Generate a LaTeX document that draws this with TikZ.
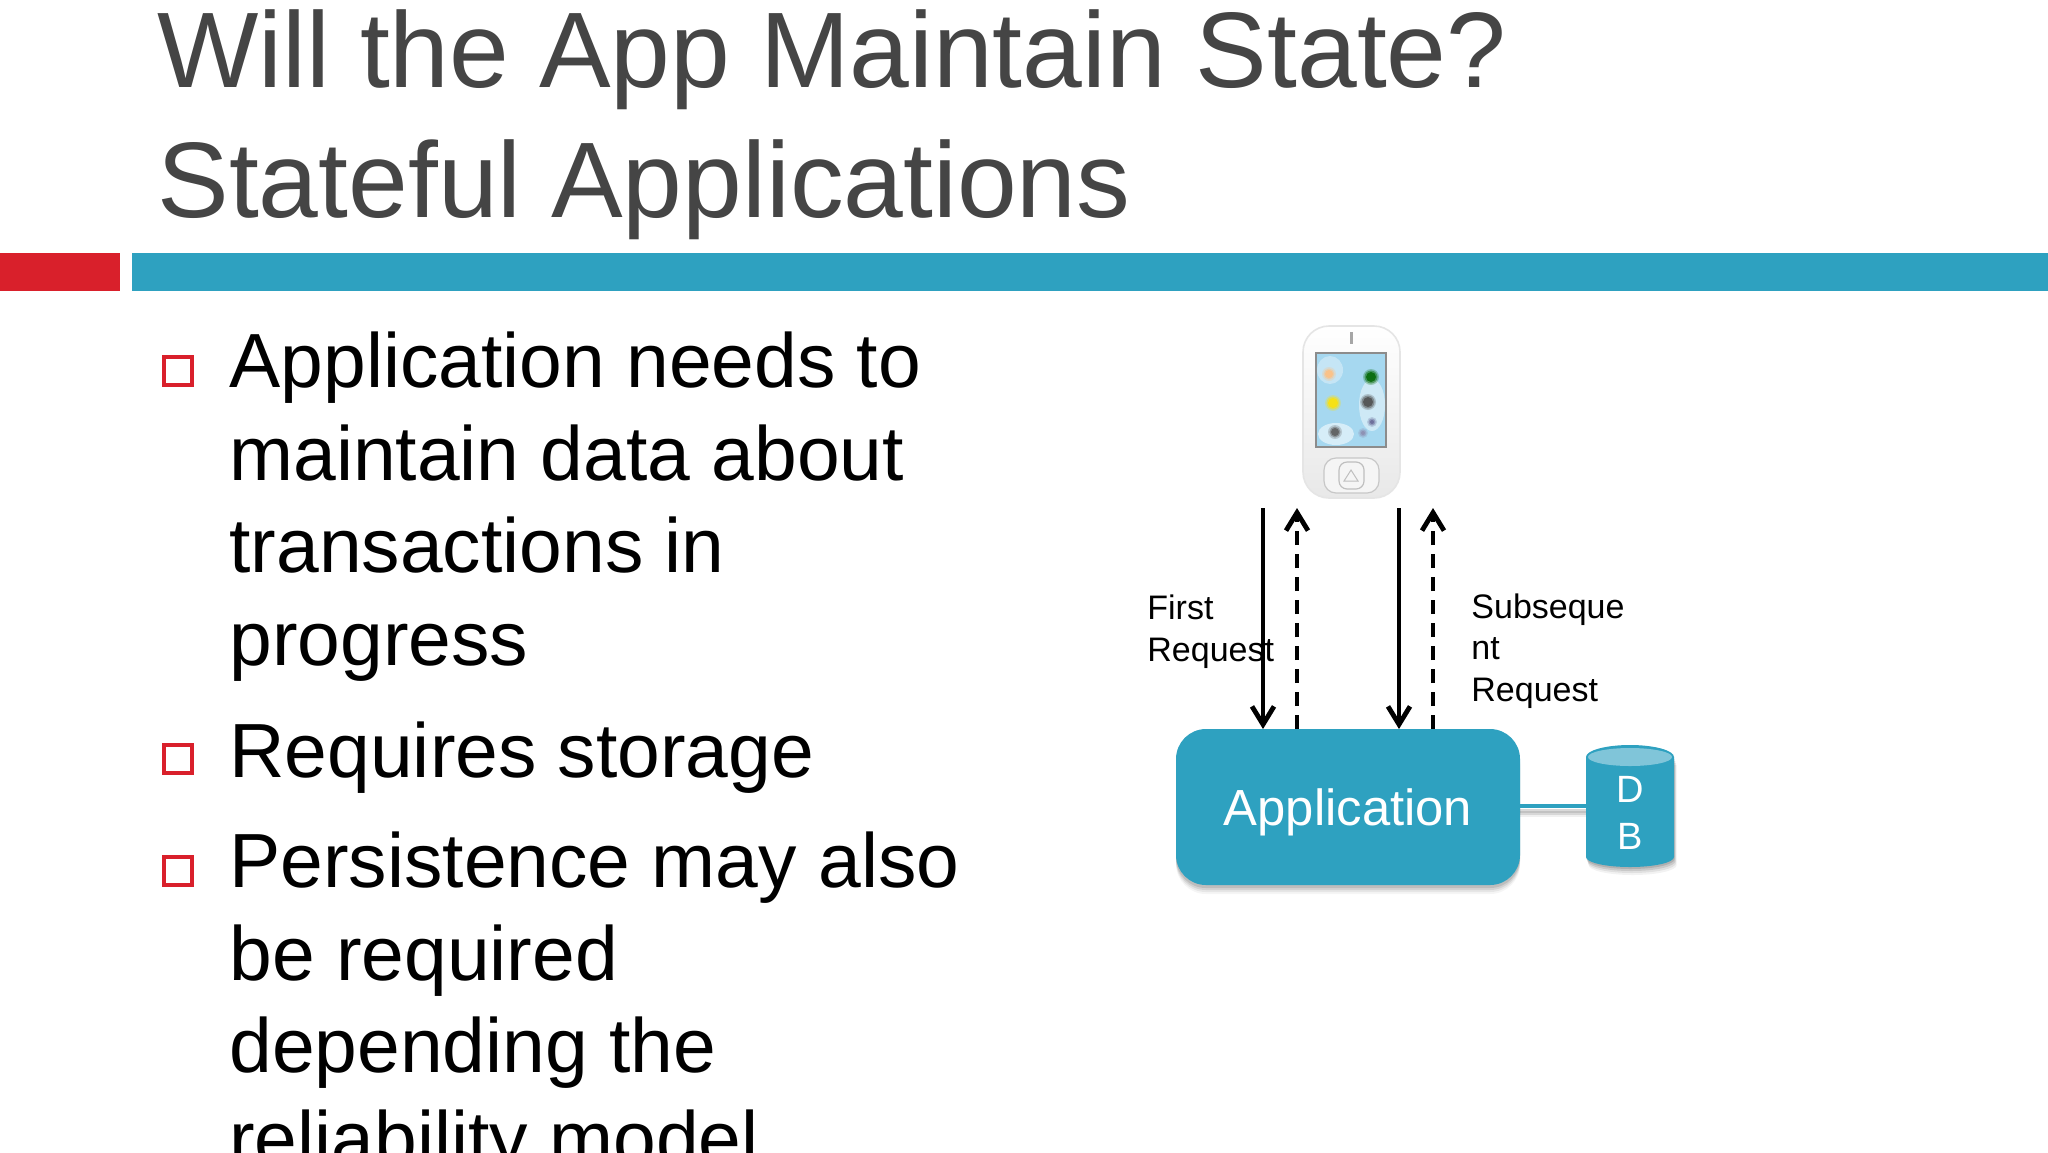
\documentclass[tikz,border=0pt]{standalone}
\usepackage{fontspec}
\setmainfont{Liberation Sans}
\usetikzlibrary{arrows.meta,calc}
\definecolor{slidered}{HTML}{D9202B}
\definecolor{slideteal}{HTML}{2EA1C0}
\definecolor{titlegray}{HTML}{454545}
\definecolor{dbtop}{HTML}{80C5D9}
\definecolor{sky}{HTML}{A6D8F0}
\newcommand{\softdot}[4]{%
  \fill[#4,opacity=0.25] (#1,#2) circle [radius=#3+3];
  \fill[#4,opacity=0.45] (#1,#2) circle [radius=#3+1.5];
  \fill[#4,opacity=0.8] (#1,#2) circle [radius=#3];
}
\tikzset{
  x=0.5pt,y=-0.5pt,
  titletext/.style={anchor=base west,inner sep=0pt,align=left,text=titlegray,font=\fontsize{53.7}{65}\selectfont},
  bodytext/.style={anchor=base west,inner sep=0pt,align=left,text=black,font=\fontsize{38.4}{46.2}\selectfont},
  bulletbox/.style={draw=slidered,line width=2pt,minimum size=14pt,inner sep=0pt,outer sep=0pt},
  labeltext/.style={anchor=base west,inner sep=0pt,align=left,text=black,font=\fontsize{17}{20.6}\selectfont},
  appbox/.style={fill=slideteal,rounded corners=15pt,minimum width=172pt,minimum height=78pt,inner sep=0pt,outer sep=0pt,text=white,font=\fontsize{25.4}{30}\selectfont,text height=23.4pt,text depth=5pt},
  dbbox/.style={anchor=base,minimum width=44pt,inner sep=0pt,outer sep=0pt,text=white,align=center,font=\fontsize{19}{23.5}\selectfont},
  solidarrow/.style={line width=2.4pt,-{Straight Barb[length=9pt,width=11pt]}},
  dasharrow/.style={line width=2.4pt,dash pattern=on 7pt off 4.5pt,-{Straight Barb[length=9pt,width=11pt]}},
  dblink/.style={line width=2pt,slideteal},
}
\begin{document}
\begin{tikzpicture}
\useasboundingbox (0,0) rectangle (2048,1152);
\clip (0,0) rectangle (2048,1152);
\fill[white] (0,0) rectangle (2048,1152);
% title and bars
\node[titletext] (title) at (157,217) {Will the App Maintain State?\\Stateful Applications};
\fill[slidered] (0,253) rectangle (120,291);
\fill[slideteal] (132,253) rectangle (2048,291);
% bullets
\node[bulletbox] (b1) at (178,371) {};
\node[bulletbox] (b2) at (178,759) {};
\node[bulletbox] (b3) at (178,871) {};
\node[bodytext] (t1) at (229,665) {Application needs to\\maintain data about\\transactions in\\progress};
\node[bodytext] (t2) at (229,777) {Requires storage};
\node[bodytext] (t3) at (229,1165) {Persistence may also\\be required\\depending the\\reliability model};
% phone
\shade[top color=white,bottom color=black!9,draw=black!10,line width=0.8pt,rounded corners=13pt] (1303,326) rectangle (1400,498);
\fill[black!35] (1349.5,332) rectangle (1352.5,344);
\node[draw=black!45,line width=1pt,fill=sky,minimum width=35pt,minimum height=47pt,inner sep=0pt] (phone) at (1350.5,399.5) {};
\fill[white,opacity=0.35] (1330,370) ellipse [x radius=13,y radius=14];
\fill[white,opacity=0.45] (1372,405) ellipse [x radius=13,y radius=26];
\fill[white,opacity=0.55] (1336,434) ellipse [x radius=18,y radius=11];
\softdot{1329}{374}{4}{orange!50!white}
\softdot{1371}{377}{5}{green!40!black}
\softdot{1333}{403}{5}{yellow!85!orange}
\softdot{1368}{402}{5}{black!70}
\softdot{1335}{432}{4}{black!65}
\softdot{1372}{422}{2}{blue!30!black!60}
\softdot{1363}{433}{2}{blue!30!black!45}
\draw[black!22,line width=0.6pt,fill=white!96!black,rounded corners=6pt] (1324,458) rectangle (1379,493);
\draw[black!25,line width=0.6pt,rounded corners=4pt] (1339,462) rectangle (1364,489);
\draw[black!25,line width=0.5pt] (1351,470) -- (1344,481) -- (1358,481) -- cycle;
% application and database
\foreach \d/\o in {9/0.04,7/0.06,5/0.08,3/0.1}{
  \fill[black,opacity=\o,rounded corners=15pt] (1176,729+\d) rectangle (1520,885+\d);
}
\node[appbox] (app) at (1348,807) {Application};
\foreach \d/\o in {8/0.05,6/0.07,4/0.1,2/0.12}{
  \fill[black,opacity=\o] (1586+\d/3,757+\d) -- (1586+\d/3,857+\d) arc[start angle=180,end angle=0,x radius=44,y radius=10] -- (1674+\d/3,757+\d) -- cycle;
}
\fill[slideteal] (1586,757) -- (1586,857) arc[start angle=180,end angle=0,x radius=44,y radius=10] -- (1674,757) arc[start angle=0,end angle=-180,x radius=44,y radius=12] -- cycle;
\fill[dbtop] (1630,757) ellipse [x radius=42,y radius=9];
\node[dbbox] (db) at (1630,849) {D\\B};
\foreach \d/\o in {8/0.06,6/0.1,4/0.15}{
  \draw[black,opacity=\o,line width=2pt] ($(app.east)+(0,\d)$) -- ($(app.east -| db.west)+(0,\d)$);
}
\draw[dblink] ($(app.east)+(0,-1)$) -- ($(app.east -| db.west)+(0,-1)$);
% connectors
\coordinate (s1) at (1263,508);
\coordinate (d1) at (1297,508);
\coordinate (s2) at (1399,508);
\coordinate (d2) at (1433,508);
\draw[solidarrow] (s1) -- (s1 |- app.north);
\draw[dasharrow] (d1 |- app.north) -- (d1);
\draw[solidarrow] (s2) -- (s2 |- app.north);
\draw[dasharrow] (d2 |- app.north) -- (d2);
% labels
\node[labeltext] (first) at (1147,661) {First\\Request};
\node[labeltext] (subs) at (1471,701) {Subseque\\nt\\Request};
\end{tikzpicture}
\end{document}
